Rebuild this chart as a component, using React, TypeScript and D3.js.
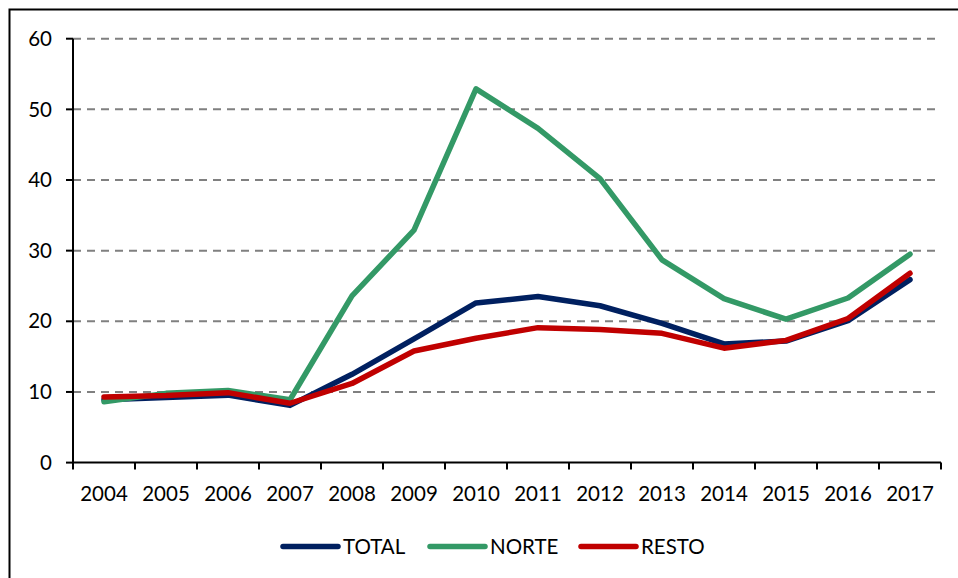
import React from "react";
import * as d3 from "d3";

const years = ["2004","2005","2006","2007","2008","2009","2010","2011","2012","2013","2014","2015","2016","2017"];
const total = [8.9, 9.2, 9.55, 8.1, 12.5, 17.5, 22.6, 23.5, 22.2, 19.7, 16.8, 17.2, 20.1, 25.9];
const norte = [8.6, 9.8, 10.2, 8.9, 23.6, 32.9, 52.9, 47.3, 40.2, 28.7, 23.2, 20.3, 23.3, 29.5];
const resto = [9.3, 9.5, 9.9, 8.4, 11.2, 15.8, 17.6, 19.1, 18.85, 18.3, 16.2, 17.3, 20.4, 26.8];
const yTicks = [0, 10, 20, 30, 40, 50, 60];

const seriesList = [
  { name: "TOTAL", values: total, color: "#002060" },
  { name: "NORTE", values: norte, color: "#339966" },
  { name: "RESTO", values: resto, color: "#C00000" },
];

const W = 958, H = 578;
const left = 73, right = 941, top = 38.7, bottom = 462.6;
const FONT = "Lato, 'Open Sans', sans-serif";

export default function App() {
  const x = d3.scaleBand<string>().domain(years).range([left, right]).padding(0);
  const y = d3.scaleLinear().domain([0, 60]).range([bottom, top]);
  const line = d3.line<number>()
    .x((_, i) => (x(years[i]) as number) + x.bandwidth() / 2)
    .y(d => y(d));

  const legendItems = [
    { name: "TOTAL", color: "#002060", x0: 283 },
    { name: "NORTE", color: "#339966", x0: 430 },
    { name: "RESTO", color: "#C00000", x0: 581 },
  ];
  const legendY = 546.5;

  return (
    <svg width={W} height={H} style={{ position: "absolute", left: 0, top: 0, background: "#fff" }}>
      <rect x={9.5} y={9.5} width={W + 20} height={H + 20} fill="#fff" stroke="#000" strokeWidth={2} />
      {yTicks.filter(t => t > 0).map(t => (
        <line key={"g" + t} x1={left} x2={936} y1={y(t)} y2={y(t)} stroke="#808080" strokeWidth={2} strokeDasharray="8 6" />
      ))}
      <line x1={left} x2={left} y1={top} y2={bottom} stroke="#000" strokeWidth={2} />
      {yTicks.map(t => (
        <g key={"y" + t}>
          <line x1={left - 7} x2={left} y1={y(t)} y2={y(t)} stroke="#000" strokeWidth={2} />
          <text x={52} y={y(t)} dy="0.35em" textAnchor="end" fontFamily={FONT} fontSize={20.5} fill="#000">{t}</text>
        </g>
      ))}
      <line x1={left} x2={right} y1={bottom} y2={bottom} stroke="#000" strokeWidth={2} />
      {[...years.map(yr => x(yr) as number), right].map((p, i) => (
        <line key={"xt" + i} x1={p} x2={p} y1={bottom} y2={bottom + 7} stroke="#000" strokeWidth={2} />
      ))}
      {years.map(yr => (
        <text key={"xl" + yr} x={(x(yr) as number) + x.bandwidth() / 2} y={494} dy="0.35em" textAnchor="middle" fontFamily={FONT} fontSize={20.5} fill="#000">{yr}</text>
      ))}
      {seriesList.map(s => (
        <path key={s.name} d={line(s.values) || ""} fill="none" stroke={s.color} strokeWidth={5.5} strokeLinejoin="round" strokeLinecap="round" />
      ))}
      {legendItems.map(l => (
        <g key={"l" + l.name}>
          <line x1={l.x0} x2={l.x0 + 55} y1={legendY} y2={legendY} stroke={l.color} strokeWidth={5.5} strokeLinecap="round" />
          <text x={l.x0 + 60} y={legendY} dy="0.35em" fontFamily={FONT} fontSize={20.5} fill="#000">{l.name}</text>
        </g>
      ))}
    </svg>
  );
}
